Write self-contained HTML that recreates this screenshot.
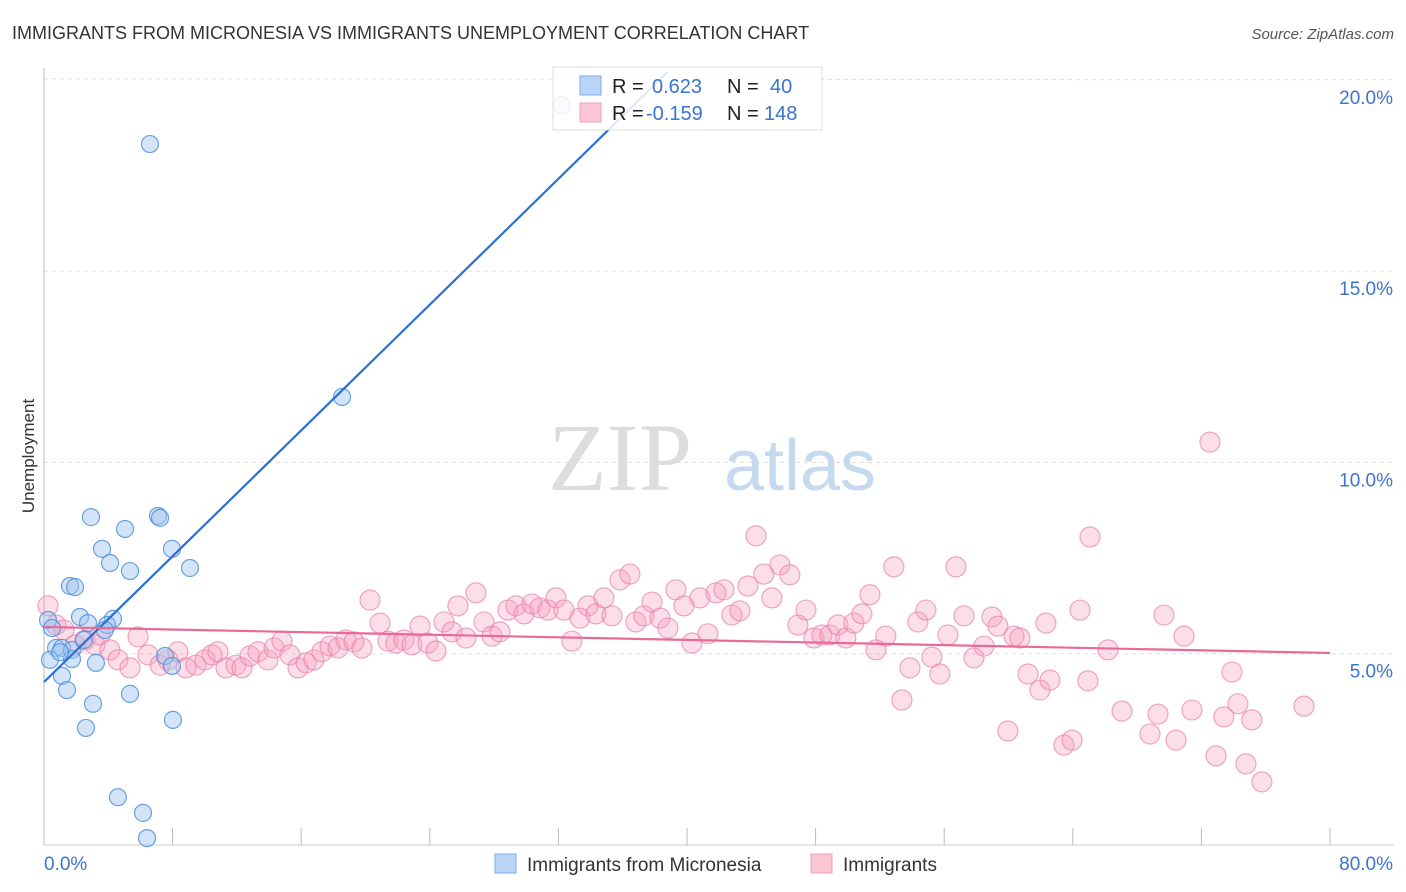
<!DOCTYPE html>
<html><head><meta charset="utf-8"><style>
body{margin:0;background:#fff;font-family:"Liberation Sans",sans-serif;}
#wrap{position:relative;width:1406px;height:892px;overflow:hidden;}
</style></head><body>
<div id="wrap">
<svg id="chart" width="1406" height="892">
<text x="12" y="39" font-size="18" fill="#333">IMMIGRANTS FROM MICRONESIA VS IMMIGRANTS UNEMPLOYMENT CORRELATION CHART</text>
<text x="1394" y="39" font-size="15" fill="#555" font-style="italic" text-anchor="end">Source: ZipAtlas.com</text>
<text x="0" y="0" transform="translate(34,456) rotate(-90)" font-size="17" fill="#333" text-anchor="middle">Unemployment</text>
<g id="grid"></g>
<g id="ticks"></g>
<text x="620" y="490" font-size="96" fill="#ddd" font-family="Liberation Serif" text-anchor="middle">ZIP</text>
<text x="800" y="490" font-size="72" fill="#c5d9ef" text-anchor="middle">atlas</text>
<g id="pink"></g>
<g id="blue"></g>
<g id="lines"></g>
<g>
<rect x="553" y="67" width="269" height="63" fill="rgba(255,255,255,0.85)" stroke="#ddd"/>
<rect x="580" y="76" width="21" height="19" fill="#b9d4f6" stroke="#7aaee8"/>
<rect x="580" y="103" width="21" height="19" fill="#fac6d6" stroke="#ef9fbb"/>
<text x="612" y="93" font-size="20" fill="#222">R =</text>
<text x="652" y="93" font-size="20" fill="#3a74d0">0.623</text>
<text x="727" y="93" font-size="20" fill="#222">N =</text>
<text x="770" y="93" font-size="20" fill="#3a74d0">40</text>
<text x="612" y="120" font-size="20" fill="#222">R =</text>
<text x="646" y="120" font-size="20" fill="#3a74d0">-0.159</text>
<text x="727" y="120" font-size="20" fill="#222">N =</text>
<text x="764" y="120" font-size="20" fill="#3a74d0">148</text>
</g>
<g>
<rect x="495" y="854" width="21" height="19" fill="#b9d4f6" stroke="#7aaee8"/>
<text x="527" y="871" font-size="19" fill="#333">Immigrants from Micronesia</text>
<rect x="811" y="854" width="21" height="19" fill="#fac6d6" stroke="#ef9fbb"/>
<text x="843" y="871" font-size="19" fill="#333">Immigrants</text>
</g>
</svg>
</div>
<script>
const xTickLabels=["0.0%","80.0%"];
const yTicks=[5,10,15,20];
const blueX=[6.59,18.54,2.92,7.09,7.22,5.04,3.61,7.96,4.11,5.35,9.08,1.62,1.93,2.24,2.74,4.29,3.92,3.79,0.25,0.75,1.12,1.74,0.37,1.74,3.23,7.53,7.96,1.12,1.43,3.05,5.35,2.61,8.02,4.60,6.16,6.41,32.2,0.5,1.0,2.49];
const blueY=[18.32,11.71,8.57,8.60,8.55,8.26,7.74,7.74,7.37,7.16,7.24,6.77,6.74,5.96,5.80,5.91,5.75,5.62,5.88,5.15,5.15,5.10,4.84,4.86,4.76,4.94,4.68,4.42,4.05,3.69,3.95,3.06,3.27,1.25,0.84,0.18,19.34,5.67,5.04,5.36];
const pinkX=[0.25,0.75,1.24,1.93,2.55,3.17,3.48,4.10,4.60,5.35,5.85,6.47,7.22,7.71,8.33,8.83,9.45,10.01,10.45,10.82,11.32,11.94,12.32,12.81,13.31,13.93,14.31,14.80,15.30,15.80,16.30,16.79,17.29,17.79,18.29,18.78,19.28,19.78,20.28,20.90,21.40,21.89,22.39,22.89,23.39,23.88,24.38,24.88,25.38,25.75,26.25,26.87,27.37,27.87,28.36,28.86,29.36,29.86,30.35,30.85,31.35,31.85,32.34,32.84,33.34,33.84,34.33,34.83,35.33,35.83,36.45,36.82,37.32,37.82,38.32,38.81,39.31,39.81,40.31,40.80,41.30,41.80,42.30,42.79,43.29,43.79,44.29,44.78,45.28,45.78,46.40,46.90,47.40,47.89,48.39,48.89,49.39,49.88,50.38,50.88,51.38,51.75,52.37,52.87,53.37,53.87,54.36,54.86,55.23,55.73,56.23,56.73,57.23,57.85,58.47,58.97,59.34,59.96,60.34,60.71,61.21,61.96,62.33,62.58,63.45,63.95,64.45,65.07,64.94,66.19,67.06,68.80,69.30,69.67,70.42,70.92,71.41,72.53,72.91,73.40,73.90,74.27,74.77,75.14,75.76,78.38];
const pinkY=[6.25,5.75,5.62,5.23,5.36,5.23,5.49,5.10,4.84,4.63,5.44,4.97,4.70,4.84,5.05,4.63,4.70,4.84,4.97,5.05,4.63,4.70,4.63,4.94,5.05,4.84,5.15,5.33,4.97,4.63,4.76,4.84,5.05,5.20,5.15,5.36,5.31,5.15,6.40,5.80,5.33,5.28,5.36,5.23,5.72,5.28,5.07,5.83,5.57,6.25,5.41,6.59,5.83,5.46,5.57,6.14,6.25,6.04,6.30,6.20,6.14,6.46,6.14,5.33,5.93,6.25,6.04,6.46,5.99,6.93,7.08,5.83,5.99,6.35,5.93,5.67,6.67,6.25,5.28,6.46,5.52,6.59,6.67,6.01,6.12,6.77,8.08,7.08,6.46,7.32,7.06,5.75,6.14,5.41,5.49,5.49,5.75,5.41,5.80,6.04,6.54,5.10,5.46,7.27,3.79,4.63,5.83,6.14,4.91,4.47,5.49,7.27,5.99,4.89,5.20,5.96,5.72,2.98,5.46,5.41,4.47,4.05,5.80,4.31,2.61,2.74,6.14,8.05,4.29,5.10,3.50,2.90,3.42,6.01,2.74,5.46,3.53,10.53,2.33,3.35,4.52,3.69,2.12,3.27,1.65,3.63];
const blueTrend=[4.26,0.411];
const pinkTrend=[5.70,-0.0085];
const X0=44,X1=1330,Y0=845,PPY=38.26;
function sx(v){return X0+v*(X1-X0)/80;}
function sy(v){return Y0-v*PPY;}
const NS="http://www.w3.org/2000/svg";
function mk(t,a,p){const e=document.createElementNS(NS,t);for(const k in a)e.setAttribute(k,a[k]);p.appendChild(e);return e;}
const grid=document.getElementById('grid');
yTicks.forEach(v=>{
 const l=mk('line',{x1:44,x2:1394,y1:sy(v)-(v===20?1:0),y2:sy(v),stroke:'#ddd','stroke-dasharray':'4,4'},grid);
 
 
 const t=mk('text',{x:1393,y:sy(v)+24,'font-size':19,fill:'#3a74d0','text-anchor':'end'},grid);
 t.textContent=v.toFixed(1)+'%';
 
 
});
const ticks=document.getElementById('ticks');
mk('line',{x1:44,x2:44,y1:68,y2:845,stroke:'#bbb'},ticks);
mk('line',{x1:44,x2:1394,y1:845,y2:845,stroke:'#ccc'},ticks);
for(let i=1;i<=10;i++){
 const l=mk('line',{x1:sx(i*8),x2:sx(i*8),y1:828,y2:845,stroke:'#bbb'},ticks);
 
 
}
[[0,44,'start'],[1,1393,'end']].forEach(([i,x,a])=>{
 const t=mk('text',{x:x,y:870,'font-size':19,fill:'#3a74d0','text-anchor':a},ticks);
 t.textContent=xTickLabels[i];
 
 
});
const pg=document.getElementById('pink');
pinkX.forEach((x,i)=>{
 const c=mk('circle',{cx:sx(x),cy:sy(pinkY[i]),r:10,fill:'rgba(245,160,190,0.35)',stroke:'rgba(232,130,170,0.7)','stroke-width':1.2},pg);
 
 
});
const bg=document.getElementById('blue');
blueX.forEach((x,i)=>{
 const c=mk('circle',{cx:sx(x),cy:sy(blueY[i]),r:8.5,fill:'rgba(160,195,240,0.45)',stroke:'rgba(70,140,220,0.8)','stroke-width':1.2},bg);
 
 
});
const lg=document.getElementById('lines');
const bxEnd=(20.2-blueTrend[0])/blueTrend[1];
const bl=mk('line',{x1:sx(0),y1:sy(blueTrend[0]),x2:sx(bxEnd),y2:sy(20.2),stroke:'#2a6fd6','stroke-width':2.2},lg);


const pl=mk('line',{x1:sx(0),y1:sy(pinkTrend[0]),x2:sx(80),y2:sy(pinkTrend[0]+80*pinkTrend[1]),stroke:'#e86a98','stroke-width':2.2},lg);


</script>
</body></html>
